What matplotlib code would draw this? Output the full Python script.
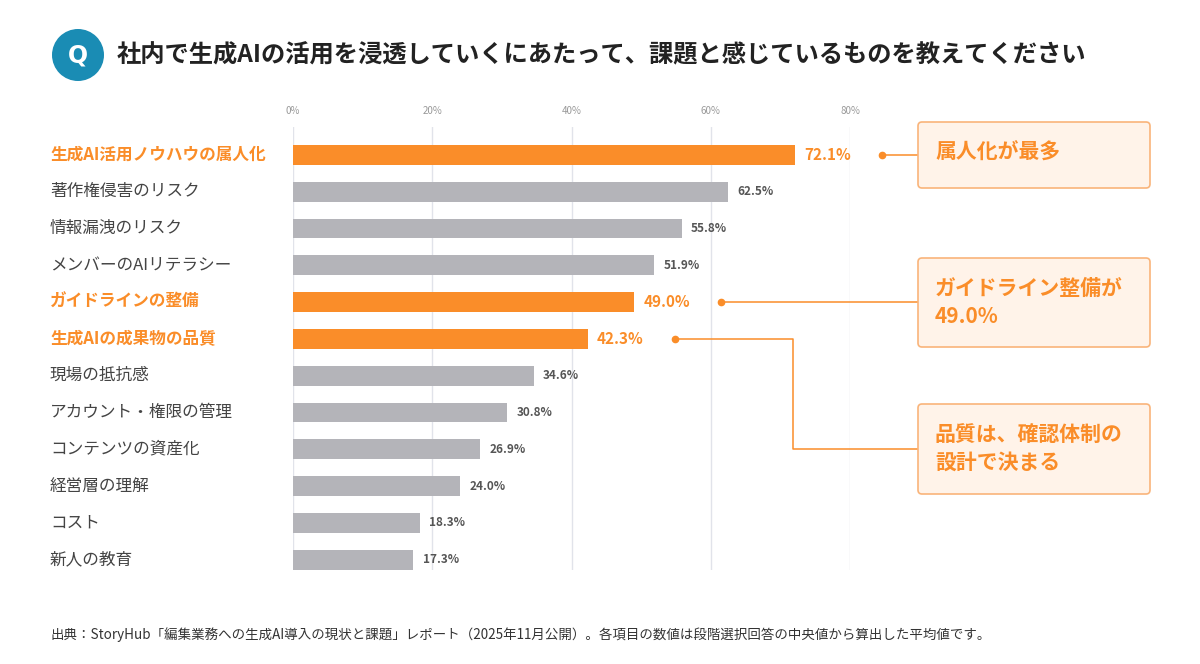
import numpy as np
import matplotlib
matplotlib.use('Agg')
import matplotlib.pyplot as plt
from matplotlib.patches import FancyBboxPatch, Circle
from matplotlib.transforms import Affine2D

plt.rcParams['font.family'] = ['Noto Sans CJK JP', 'DejaVu Sans']

title = '社内で生成AIの活用を浸透していくにあたって、課題と感じているものを教えてください'
categories = ['生成AI活用ノウハウの属人化', '著作権侵害のリスク', '情報漏洩のリスク',
              'メンバーのAIリテラシー', 'ガイドラインの整備', '生成AIの成果物の品質',
              '現場の抵抗感', 'アカウント・権限の管理', 'コンテンツの資産化',
              '経営層の理解', 'コスト', '新人の教育']
values = [72.1, 62.5, 55.8, 51.9, 49.0, 42.3, 34.6, 30.8, 26.9, 24.0, 18.3, 17.3]
highlight = [True, False, False, False, True, True, False, False, False, False, False, False]
ticks = [0, 20, 40, 60, 80]
notes = [['属人化が最多'], ['ガイドライン整備が', '49.0%'], ['品質は、確認体制の', '設計で決まる']]
note_rows = [0, 4, 5]
source = '出典：StoryHub「編集業務への生成AI導入の現状と課題」レポート（2025年11月公開）。各項目の数値は段階選択回答の中央値から算出した平均値です。'

orange = '#fa8d29'
gray = '#b4b4b9'
W, H = 1200, 664

fig = plt.figure(figsize=(W / 100, H / 100), dpi=100)
fig.patch.set_facecolor('white')
px = Affine2D().scale(1 / W, -1 / H).translate(0, 1) + fig.transFigure

ax = fig.add_axes([293 / W, 1 - 570 / H, (850 - 293) / W, (570 - 127) / H])
y = np.arange(len(categories))
cols = [orange if h else gray for h in highlight]
ax.barh(y, values, height=0.54, color=cols, zorder=3)
ax.set_xlim(0, 80)
ax.set_ylim(11.28, -0.76)
ax.set_xticks(ticks)
ax.set_xticklabels([f'{t}%' for t in ticks], fontsize=7, color='#999999')
ax.xaxis.tick_top()
ax.tick_params(axis='x', length=0, pad=8)
ax.set_yticks([])
ax.grid(axis='x', color='#e1e3ea', linewidth=1, zorder=0)
for s in ax.spines.values():
    s.set_visible(False)

# value labels
for i, (v, h) in enumerate(zip(values, highlight)):
    if h:
        ax.text(v + 1.3, i, f'{v:.1f}%', va='center', ha='left', fontsize=11,
                fontweight='bold', color=orange)
    else:
        ax.text(v + 1.3, i, f'{v:.1f}%', va='center', ha='left', fontsize=8.5,
                fontweight='bold', color='#555555')

# category labels
for i, (c, h) in enumerate(zip(categories, highlight)):
    ypx = ax.transData.transform((0, i))[1]
    yfig = ypx / fig.bbox.height
    fig.text(50 / W, yfig, c, va='center', ha='left', fontsize=12,
             color=orange if h else '#444444', fontweight='bold' if h else 'normal')

# title
fig.patches.append(Circle((78, 55), 26, transform=px, facecolor='#1a8cb4', edgecolor='none'))
fig.text(78, 56, 'Q', transform=px, ha='center', va='center', fontsize=17,
         color='white', fontweight='bold', family=['DejaVu Sans'])
fig.text(117, 55, title, transform=px, ha='left', va='center', fontsize=17.5,
         fontweight='bold', color='#222222')

# annotation boxes
boxes = [(122, 188), (258, 347), (404, 494)]
for (top, bot), lines in zip(boxes, notes):
    fig.patches.append(FancyBboxPatch((918, top), 232, bot - top, transform=px,
                                      boxstyle='round,pad=0,rounding_size=4',
                                      facecolor='#fff3e9', edgecolor='#f9b47a', linewidth=1.2))
    for j, line in enumerate(lines):
        fig.text(935, top + 30 + 28.5 * j, line, transform=px, ha='left', va='center',
                 fontsize=15, fontweight='bold', color=orange)

# connectors (data coords)
def dx(p):
    return (p - 293) / (850 - 293) * 80

box_x = dx(918)
for k, r in enumerate(note_rows):
    v = values[r]
    d = v + 12.5
    ax.plot([d], [r], 'o', color=orange, markersize=4.5, clip_on=False, zorder=5)
    if k < 2:
        ax.plot([d, box_x], [r, r], color=orange, lw=1.1, clip_on=False)
    else:
        ex = dx(793)
        ax.plot([d, ex, ex, box_x], [r, r, 8, 8], color=orange, lw=1.1, clip_on=False)

fig.text(50, 635, source, transform=px, ha='left', va='center', fontsize=9.7, color='#333333')

fig.savefig('out.png', dpi=100, facecolor='white')
